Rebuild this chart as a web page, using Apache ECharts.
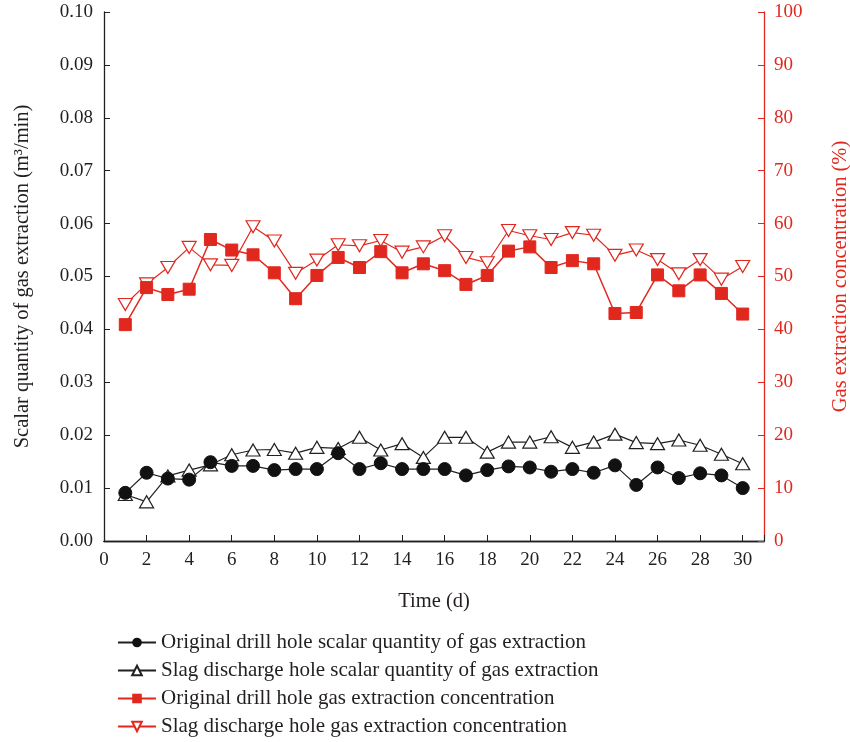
<!DOCTYPE html>
<html><head><meta charset="utf-8">
<script src="https://cdn.jsdelivr.net/npm/echarts@6/dist/echarts.min.js"></script>
<style>html,body{margin:0;padding:0;background:#fff;overflow:hidden;width:850px;height:742px}#c{width:850px;height:742px}</style>
</head><body><div id="c"></div>
<script>
const days = [1,2,3,4,5,6,7,8,9,10,11,12,13,14,15,16,17,18,19,20,21,22,23,24,25,26,27,28,29,30];
const origScalar = [0.0091,0.0129,0.0118,0.0116,0.0149,0.0142,0.0142,0.0134,0.0136,0.0136,0.0166,0.0136,0.0147,0.0136,0.0136,0.0136,0.0124,0.0134,0.0141,0.0139,0.0131,0.0136,0.0129,0.0143,0.0106,0.0139,0.0119,0.0128,0.0124,0.0100];
const slagScalar = [0.0088,0.0074,0.0123,0.0134,0.0144,0.0163,0.0172,0.0173,0.0166,0.0177,0.0175,0.0196,0.0172,0.0184,0.0158,0.0196,0.0196,0.0168,0.0187,0.0187,0.0197,0.0177,0.0187,0.0202,0.0186,0.0184,0.0191,0.0181,0.0164,0.0146];
const origConc = [40.9,47.9,46.6,47.6,57.0,55.0,54.1,50.7,45.8,50.2,53.6,51.7,54.7,50.7,52.4,51.1,48.5,50.2,54.8,55.6,51.7,53.0,52.4,43.0,43.2,50.3,47.3,50.3,46.8,42.9];
const slagConc = [44.7,48.6,51.7,55.5,52.2,52.1,59.4,56.7,50.6,53.1,56.0,55.8,56.8,54.6,55.6,57.7,53.6,52.6,58.7,57.7,57.0,58.3,57.8,54.0,55.0,53.2,50.5,53.2,49.5,51.9];
const seriesNames = [
  'Original drill hole scalar quantity of gas extraction',
  'Slag discharge hole scalar quantity of gas extraction',
  'Original drill hole gas extraction concentration',
  'Slag discharge hole gas extraction concentration'
];
const RED = '#e0281e';
const INK = '#231f20';
const FONT = 'Liberation Serif';
const pair = arr => days.map((d,i)=>[d,arr[i]]);
const chart = echarts.init(document.getElementById('c'), null, {renderer:'canvas'});
const legendRowTop = [627, 655, 683, 711];
chart.setOption({
  backgroundColor:'#fff',
  animation:false,
  textStyle:{fontFamily:FONT},
  grid:{left:104,right:86,top:12,bottom:201,containLabel:false,outerBoundsMode:'none'},
  legend: seriesNames.map((n,i)=>({
    orient:'horizontal', left:112, top:legendRowTop[i], itemWidth:38, itemHeight:12,
    textStyle:{fontFamily:FONT,fontSize:21,color:INK},
    data:[n]
  })),
  xAxis:[{
    type:'value', min:0, max:31, interval:2,
    name:'Time (d)', nameLocation:'middle', nameGap:50,
    nameTextStyle:{fontFamily:FONT,fontSize:20.5,color:INK},
    axisLine:{show:true,onZero:false,lineStyle:{color:INK,width:1.3}},
    axisTick:{show:true,inside:true,length:6,lineStyle:{color:INK}},
    axisLabel:{fontFamily:FONT,fontSize:19,color:INK,margin:10,formatter:v=>v===31?'':v},
    splitLine:{show:false}
  },{
    type:'value', min:0, max:31, position:'top',
    axisLine:{show:true,lineStyle:{color:INK,width:1.3}},
    axisTick:{show:false}, axisLabel:{show:false}, splitLine:{show:false}
  }],
  yAxis:[{
    type:'value', min:0, max:0.1, interval:0.01, position:'left',
    name:'Scalar quantity of gas extraction (m\u00b3/min)', nameLocation:'middle', nameGap:71,
    nameTextStyle:{fontFamily:FONT,fontSize:20.5,color:INK},
    axisLine:{show:true,onZero:false,lineStyle:{color:INK,width:1.3}},
    axisTick:{show:true,inside:true,length:6,lineStyle:{color:INK}},
    axisLabel:{fontFamily:FONT,fontSize:19,color:INK,margin:11,formatter:v=>v.toFixed(2)},
    splitLine:{show:false}
  },{
    type:'value', min:0, max:100, interval:10, position:'right',
    name:'Gas extraction concentration (%)', nameLocation:'middle', nameGap:66,
    nameRotate:90,
    nameTextStyle:{fontFamily:FONT,fontSize:20.5,color:RED},
    axisLine:{show:true,onZero:false,lineStyle:{color:RED,width:1.3}},
    axisTick:{show:true,inside:true,length:6,lineStyle:{color:RED}},
    axisLabel:{fontFamily:FONT,fontSize:19,color:RED,margin:10},
    splitLine:{show:false}
  }],
  series:[
    {name:seriesNames[0],type:'line',xAxisIndex:0,yAxisIndex:0,data:pair(origScalar),
     symbol:'circle',symbolSize:13,lineStyle:{color:INK,width:1.2},
     itemStyle:{color:'#111',borderColor:'#111'},z:4},
    {name:seriesNames[1],type:'line',xAxisIndex:0,yAxisIndex:0,data:pair(slagScalar),
     symbol:'triangle',symbolSize:[14,12],lineStyle:{color:INK,width:1.2},
     itemStyle:{color:'#fff',borderColor:INK,borderWidth:1.2},z:3},
    {name:seriesNames[2],type:'line',xAxisIndex:0,yAxisIndex:1,data:pair(origConc),
     symbol:'rect',symbolSize:12,lineStyle:{color:RED,width:1.5},
     itemStyle:{color:RED,borderColor:RED},z:4},
    {name:seriesNames[3],type:'line',xAxisIndex:0,yAxisIndex:1,data:pair(slagConc),
     symbol:'triangle',symbolRotate:180,symbolSize:[14,12],lineStyle:{color:RED,width:1.2},
     itemStyle:{color:'#fff',borderColor:RED,borderWidth:1.2},z:3}
  ]
});
</script></body></html>
